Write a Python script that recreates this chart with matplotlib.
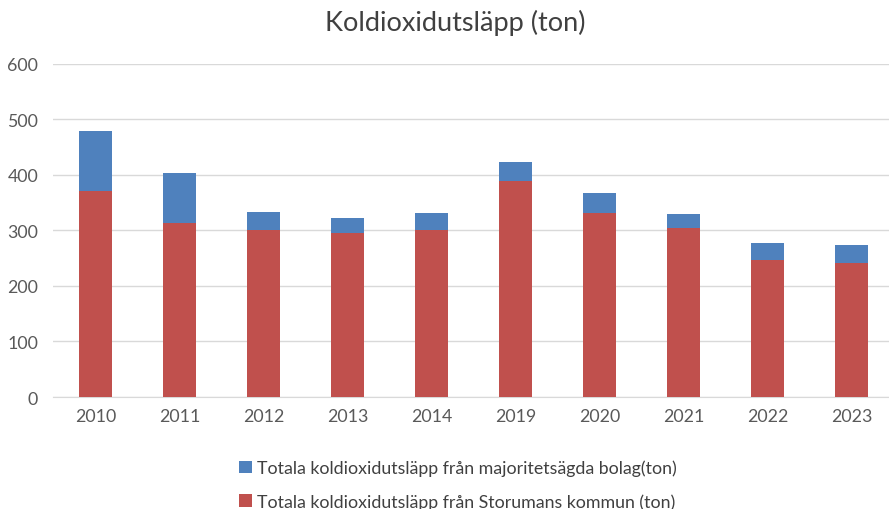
import matplotlib.pyplot as plt
import numpy as np

years = ["2010", "2011", "2012", "2013", "2014", "2019", "2020", "2021", "2022", "2023"]
kommun = [371, 313, 300, 295, 301, 389, 331, 304, 246, 242]
totals = [479, 403, 334, 322, 331, 423, 367, 329, 278, 273]
bolag = [t - k for t, k in zip(totals, kommun)]

label_bolag = "Totala koldioxidutsläpp från majoritetsägda bolag(ton)"
label_kommun = "Totala koldioxidutsläpp från Storumans kommun (ton)"

plt.rcParams["font.family"] = ["Lato", "DejaVu Sans"]

fig = plt.figure(figsize=(8.89, 5.10), dpi=100)
ax = fig.add_axes([0.06, 0.2196, 0.945, 0.653])

x = np.arange(len(years))
red = "#C0504D"
blue = "#4F81BD"
ax.bar(x, kommun, width=0.4, color=red, label=label_kommun, zorder=3)
ax.bar(x, bolag, width=0.4, bottom=kommun, color=blue, label=label_bolag, zorder=3)

ax.set_xlim(-0.5, len(years) - 0.5)
ax.set_ylim(0, 600)
ax.set_yticks(range(0, 601, 100))
ax.set_xticks(x)
ax.set_xticklabels(years)
ax.yaxis.grid(True, color="#d9d9d9", linewidth=1, zorder=0)
ax.tick_params(axis="both", length=0, labelsize=12.8, colors="#595959", pad=8)
ax.tick_params(axis="y", pad=11)
for side in ["top", "right", "left"]:
    ax.spines[side].set_visible(False)
ax.spines["bottom"].set_color("#d9d9d9")

fig.text(0.512, 0.955, "Koldioxidutsläpp (ton)", ha="center", va="center",
         fontsize=19.5, color="#404040")

handles, labels = ax.get_legend_handles_labels()
fig.legend(handles[::-1], labels[::-1], loc="center", bbox_to_anchor=(0.515, 0.048),
           ncol=1, frameon=False, fontsize=12.8, handlelength=0.7, handleheight=0.7,
           handletextpad=0.3, labelspacing=0.95, labelcolor="#404040")

fig.savefig("out.png", dpi=100)
